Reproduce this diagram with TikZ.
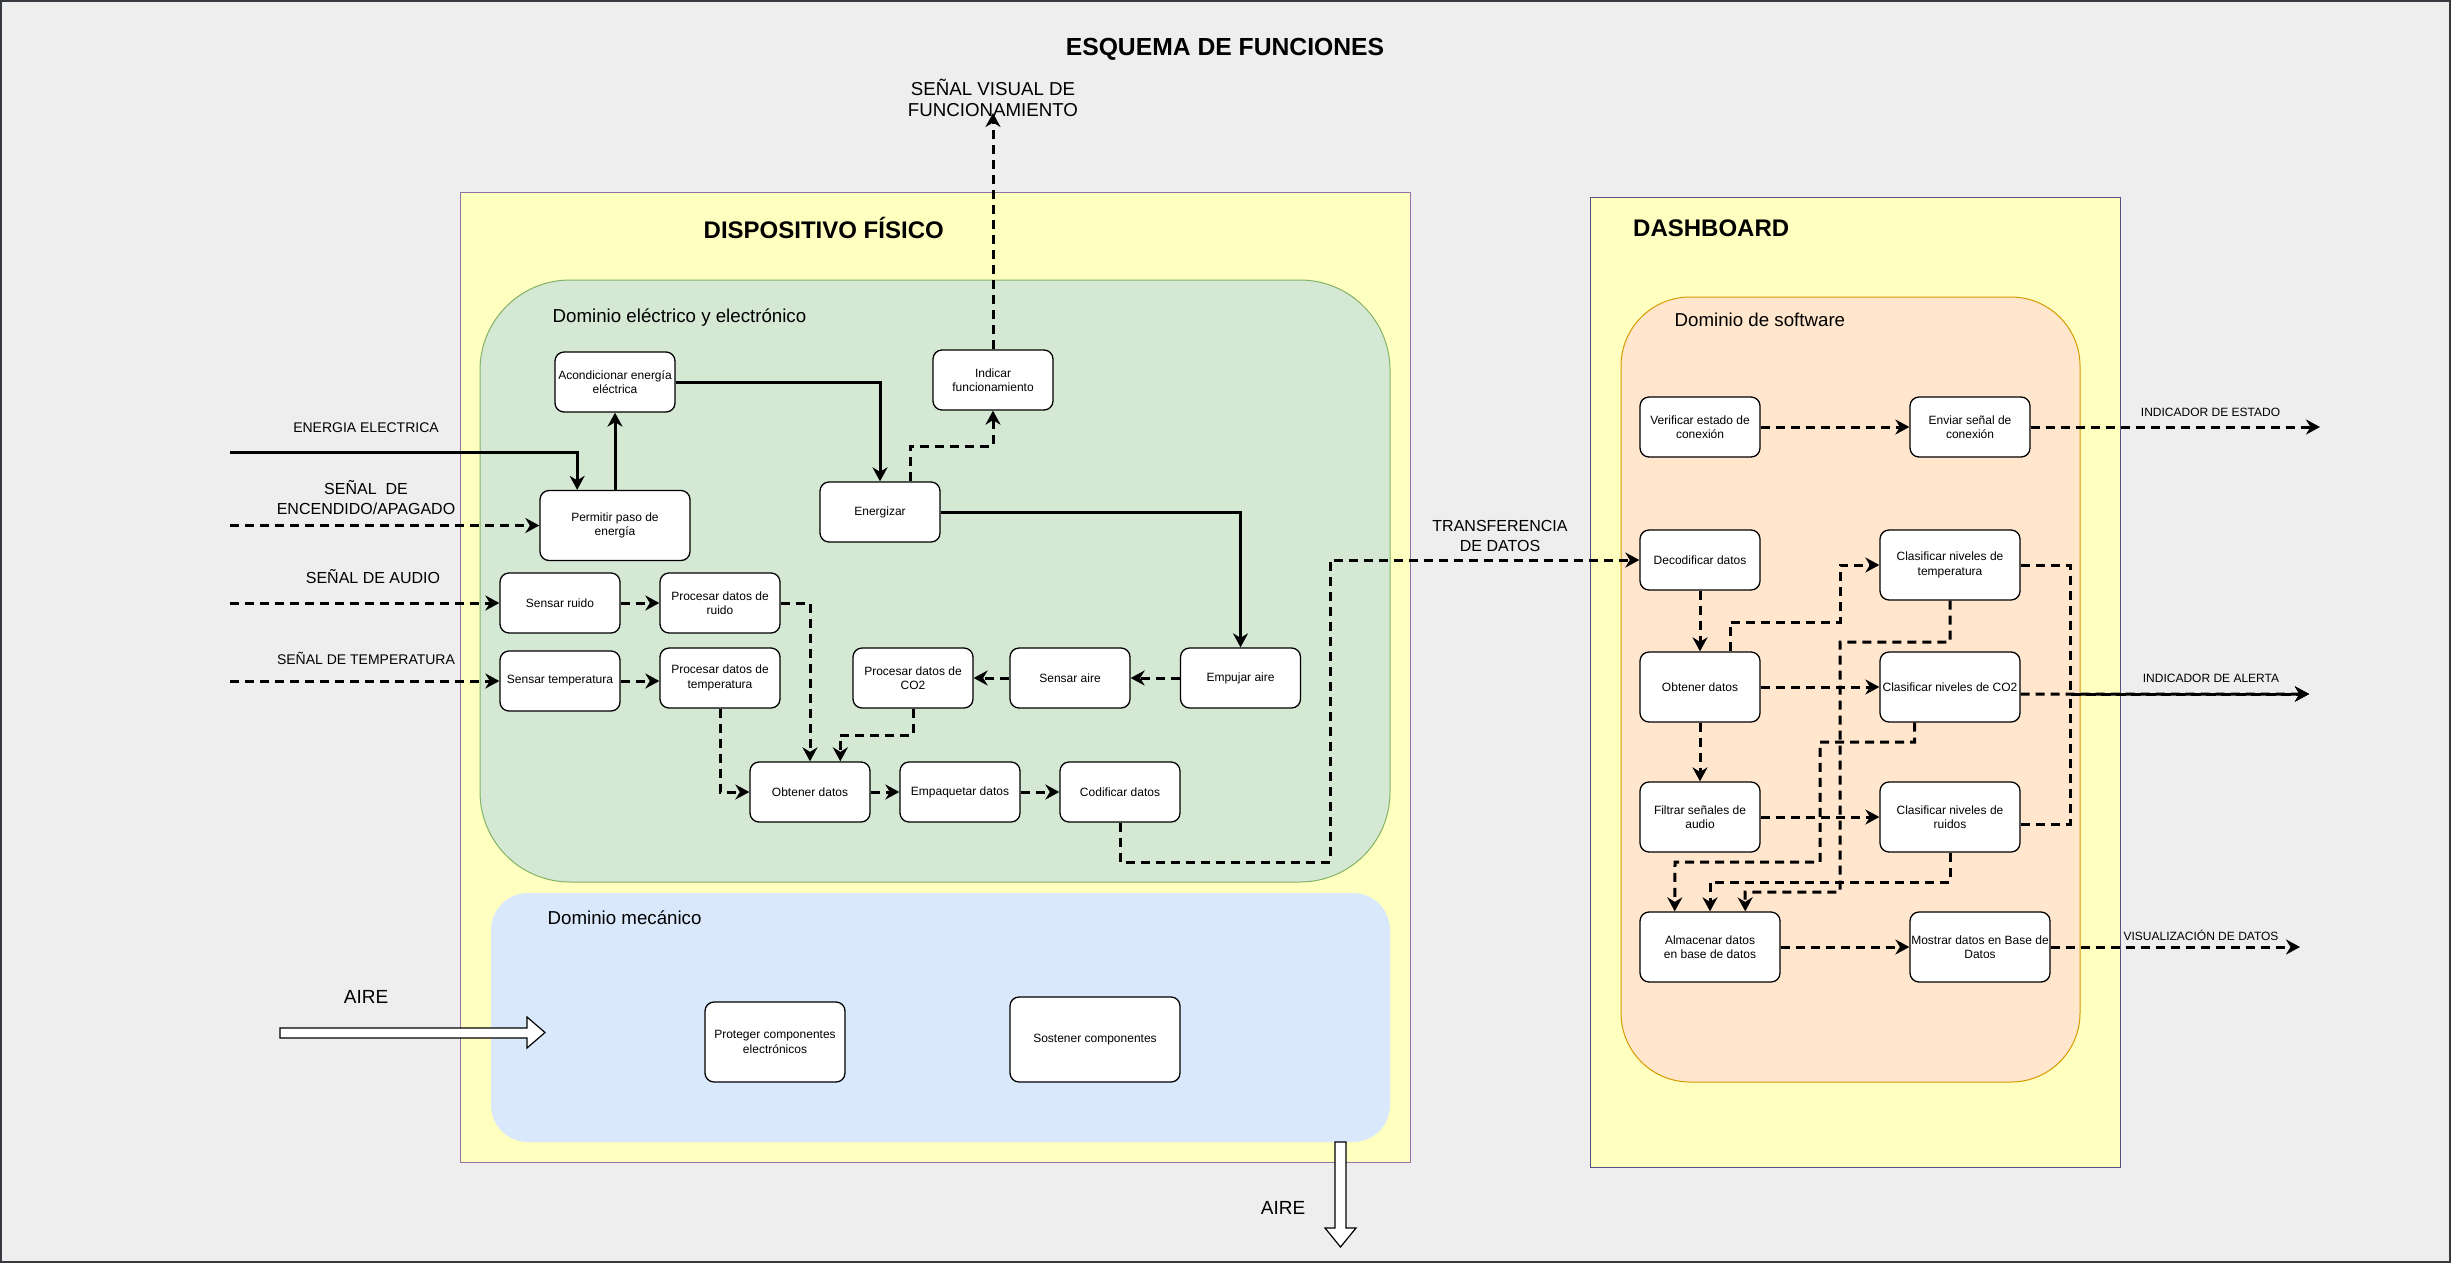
\documentclass[tikz,border=0pt]{standalone}
\usepackage{fontspec}
\setmainfont{Liberation Sans}
\usetikzlibrary{arrows.meta,calc}

\definecolor{bggrey}{HTML}{EEEEEE}
\definecolor{framec}{HTML}{36393D}
\definecolor{yellowfill}{HTML}{FFFFC0}
\definecolor{purpleline}{HTML}{9673A6}
\definecolor{slateline}{HTML}{56517E}
\definecolor{greenfill}{HTML}{D5E8D4}
\definecolor{greenline}{HTML}{82B366}
\definecolor{bluefill}{HTML}{DAE8FC}
\definecolor{orangefill}{HTML}{FFE6CC}
\definecolor{orangeline}{HTML}{D79B00}

\begin{document}
\begin{tikzpicture}[x=1pt,y=-1pt,
  box/.style={draw=black,line width=1.3pt,fill=white,rounded corners=9pt,
    align=center,inner sep=1pt,font=\fontsize{12}{14.4}\selectfont},
  flow/.style={line width=3pt,-{Stealth[length=14pt,width=15pt,inset=4.5pt]}},
  dflow/.style={flow,dash pattern=on 9pt off 6pt},
  lbl/.style={inner sep=0pt,align=center},
  hdr/.style={inner sep=0pt,anchor=west,font=\fontsize{24}{29}\selectfont\bfseries},
  dom/.style={inner sep=0pt,anchor=west,font=\fontsize{18.7}{22}\selectfont},
  hollow/.style={draw=black,line width=1.2pt,fill=white,line join=miter}
]
\useasboundingbox (0,0) rectangle (2451,1264);

% page background and frame
\draw[fill=bggrey,draw=framec,line width=2pt] (1,1) rectangle (2450,1262);

% title
\node[lbl,font=\fontsize{24.7}{29}\selectfont\bfseries] (title) at (1225,49) {ESQUEMA DE FUNCIONES};

% ---------------- physical device ----------------
\draw[fill=yellowfill,draw=purpleline,line width=1pt] (460,192) rectangle (1410,1162);
\node[hdr] (hdrdev) at (703.5,228) {DISPOSITIVO FÍSICO};

\draw[fill=greenfill,draw=greenline,line width=1pt,rounded corners=90pt] (480,280) rectangle (1390,882);
\node[dom] (domelec) at (552.5,317.5) {Dominio eléctrico y electrónico};

\draw[fill=bluefill,draw=none,rounded corners=37pt] (491,893) rectangle (1390,1142);
\node[dom] (dommec) at (547.5,918) {Dominio mecánico};

% ---------------- dashboard ----------------
\draw[fill=yellowfill,draw=slateline,line width=1pt] (1590,197) rectangle (2120,1167);
\node[hdr] (hdrdash) at (1633,228) {DASHBOARD};

\draw[fill=orangefill,draw=orangeline,line width=1pt,rounded corners=69pt] (1621,297) rectangle (2080,1082);
\node[dom] (domsw) at (1674.5,320) {Dominio de software};

% ---------------- electric / electronic functions ----------------
\node[box,minimum width=120pt,minimum height=60pt] (acond) at (615,382) {Acondicionar energía\\eléctrica};
\node[box,minimum width=150pt,minimum height=70pt] (perm) at (615,525.5) {Permitir paso de\\energía};
\node[box,minimum width=120pt,minimum height=60pt] (energ) at (880,512) {Energizar};
\node[box,minimum width=120pt,minimum height=60pt] (ind) at (993,380) {Indicar\\funcionamiento};
\node[box,minimum width=120pt,minimum height=60pt] (sruido) at (560,603) {Sensar ruido};
\node[box,minimum width=120pt,minimum height=60pt] (pruido) at (720,603) {Procesar datos de\\ruido};
\node[box,minimum width=120pt,minimum height=60pt] (stemp) at (560,681) {Sensar temperatura};
\node[box,minimum width=120pt,minimum height=60pt] (ptemp) at (720,678) {Procesar datos de\\temperatura};
\node[box,minimum width=120pt,minimum height=60pt] (pco2) at (913,678) {Procesar datos de\\CO2};
\node[box,minimum width=120pt,minimum height=60pt] (saire) at (1070,678) {Sensar aire};
\node[box,minimum width=120pt,minimum height=60pt] (empuj) at (1240.5,678) {Empujar aire};
\node[box,minimum width=120pt,minimum height=60pt] (obt) at (810,792) {Obtener datos};
\node[box,minimum width=120pt,minimum height=60pt] (empaq) at (960,792) {Empaquetar datos};
\node[box,minimum width=120pt,minimum height=60pt] (codif) at (1120,792) {Codificar datos};

% mechanical functions
\node[box,minimum width=140pt,minimum height=80pt] (prot) at (775,1042) {Proteger componentes\\electrónicos};
\node[box,minimum width=170pt,minimum height=85pt] (sost) at (1095,1039.5) {Sostener componentes};

% ---------------- software functions ----------------
\node[box,minimum width=120pt,minimum height=60pt] (verif) at (1700,427) {Verificar estado de\\conexión};
\node[box,minimum width=120pt,minimum height=60pt] (envia) at (1970,427) {Enviar señal de\\conexión};
\node[box,minimum width=120pt,minimum height=60pt] (deco) at (1700,560) {Decodificar datos};
\node[box,minimum width=140pt,minimum height=70pt] (ctemp) at (1950,565) {Clasificar niveles de\\temperatura};
\node[box,minimum width=120pt,minimum height=70pt] (dobt) at (1700,687) {Obtener datos};
\node[box,minimum width=140pt,minimum height=70pt] (cco2) at (1950,687) {Clasificar niveles de CO2};
\node[box,minimum width=120pt,minimum height=70pt] (filt) at (1700,817) {Filtrar señales de\\audio};
\node[box,minimum width=140pt,minimum height=70pt] (cruid) at (1950,817) {Clasificar niveles de\\ruidos};
\node[box,minimum width=140pt,minimum height=70pt] (alm) at (1710,947) {Almacenar datos\\en base de datos};
\node[box,minimum width=140pt,minimum height=70pt] (most) at (1980,947) {Mostrar datos en Base de\\Datos};

% ---------------- external inputs / outputs ----------------
\coordinate (inEnergy) at (230,452.5);
\coordinate (inOnOff) at (230,525.5);
\coordinate (inAudio) at (230,603);
\coordinate (inTemp) at (230,681);
\coordinate (outVisual) at (993,113);
\coordinate (linkA) at (1330,862);
\coordinate (outState) at (2320,427);
\coordinate (alertJoin) at (2070,694);
\coordinate (outAlert) at (2309,694);
\coordinate (outView) at (2300,947);

\node[lbl,font=\fontsize{14}{17}\selectfont] (lEnergy) at (366,428) {ENERGIA ELECTRICA};
\node[lbl,font=\fontsize{16}{20}\selectfont] (lOnOff) at (366,498) {SEÑAL~~DE\\ENCENDIDO/APAGADO};
\node[lbl,font=\fontsize{16}{20}\selectfont] (lAudio) at (373,576.5) {SEÑAL DE AUDIO};
\node[lbl,font=\fontsize{14}{17}\selectfont] (lTemp) at (366,658) {SEÑAL DE TEMPERATURA};
\node[lbl,font=\fontsize{18.7}{21}\selectfont] (lVisual) at (993,98) {SEÑAL VISUAL DE\\FUNCIONAMIENTO};
\node[lbl,font=\fontsize{16}{20}\selectfont] (lTransfer) at (1500,536) {TRANSFERENCIA\\DE DATOS};
\node[lbl,font=\fontsize{12}{14.4}\selectfont] (lState) at (2210.5,412.5) {INDICADOR DE ESTADO};
\node[lbl,font=\fontsize{12}{14.4}\selectfont] (lAlert) at (2211,678) {INDICADOR DE ALERTA};
\node[lbl,font=\fontsize{12}{14.4}\selectfont] (lView) at (2201,935) {VISUALIZACIÓN DE DATOS};
\node[lbl,font=\fontsize{19}{22}\selectfont] (lAirIn) at (366,997) {AIRE};
\node[lbl,font=\fontsize{19}{22}\selectfont] (lAirOut) at (1283,1208) {AIRE};

% air flow arrows
\draw[hollow] (280,1028) -- (527,1028) -- (527,1017) -- (545,1032.5) -- (527,1048) -- (527,1038) -- (280,1038) -- cycle;
\draw[hollow] (1335,1142) -- (1346,1142) -- (1346,1228) -- (1356,1228) -- (1340.5,1247) -- (1325,1228) -- (1335,1228) -- cycle;

% ---------------- energy paths (solid) ----------------
\draw[flow] (inEnergy) -| ($(perm.north west)!.25!(perm.north east)$);
\draw[flow] (perm.north) -- (acond.south);
\draw[flow] (acond.east) -| (energ.north);
\draw[flow] (energ.east) -| (empuj.north);

% ---------------- signal paths (dashed) ----------------
\draw[dflow] ($(energ.north west)!.75!(energ.north east)$) |- ($(energ.north)!.5!(ind.south)$) -| (ind.south);
\draw[dflow] (ind.north) -- (outVisual);
\draw[dflow] (inOnOff) -- (perm.west);
\draw[dflow] (inAudio) -- (sruido.west);
\draw[dflow] (inTemp) -- (stemp.west);
\draw[dflow] (sruido.east) -- (pruido.west);
\draw[dflow] (stemp.east) -- (stemp.east -| ptemp.west);
\draw[dflow] (pruido.east) -| (obt.north);
\draw[dflow] (ptemp.south) |- (obt.west);
\draw[dflow] (pco2.south) |- ($(pco2.south)!.5!(obt.north)$) -| ($(obt.north west)!.75!(obt.north east)$);
\draw[dflow] (empuj.west) -- (saire.east);
\draw[dflow] (saire.west) -- (pco2.east);
\draw[dflow] (obt.east) -- (empaq.west);
\draw[dflow] (empaq.east) -- (codif.west);
\draw[dflow] (codif.south) |- (linkA) |- (deco.west);

% software flows
\draw[dflow] (verif.east) -- (envia.west);
\draw[dflow] (envia.east) -- (outState);
\draw[dflow] (deco.south) -- (dobt.north);
\draw[dflow] (dobt.south) -- (filt.north);
\draw[dflow] ($(dobt.north west)!.75!(dobt.north east)$) |- (1840,622) |- (ctemp.west);
\draw[dflow] (dobt.east) -- (cco2.west);
\draw[dflow] (filt.east) -- (cruid.west);
\draw[dflow] (ctemp.south) |- (1840,642) |- (1745,892) -- ($(alm.north west)!.75!(alm.north east)$);
\draw[dflow] ($(cco2.south west)!.25!(cco2.south east)$) |- (1820,742) |- (1675,862) -- ($(alm.north west)!.25!(alm.north east)$);
\draw[dflow] (cruid.south) |- (1710,882) -- (alm.north);
\draw[dflow] (ctemp.east) -| (alertJoin) -- (outAlert);
\draw[dflow] ($(cruid.north east)!.6!(cruid.south east)$) -| (alertJoin) -- (outAlert);
\draw[dflow] ($(cco2.north east)!.6!(cco2.south east)$) -- (outAlert);
\draw[dflow] (alm.east) -- (most.west);
\draw[dflow] (most.east) -- (outView);

\end{tikzpicture}
\end{document}
